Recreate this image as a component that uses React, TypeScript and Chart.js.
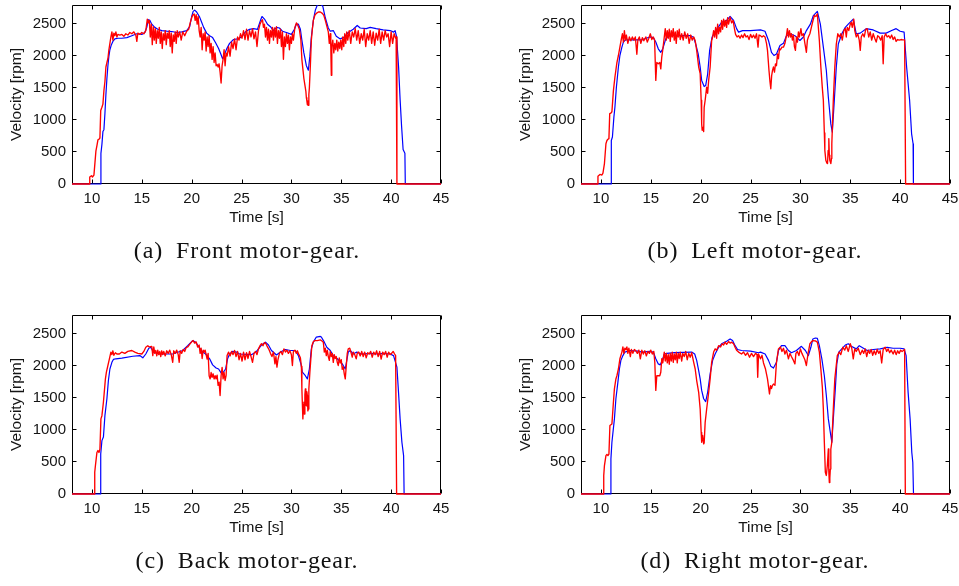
import React, { useEffect, useRef } from 'react';
import { Chart, registerables } from 'chart.js';

Chart.register(...registerables);

// ---------- axes ----------
const X_TICKS = [10, 15, 20, 25, 30, 35, 40, 45];
const Y_TICKS = [0, 500, 1000, 1500, 2000, 2500];
const X_RANGE = [8, 45];
const Y_RANGE = [0, 2800];
const X_TITLE = 'Time [s]';
const Y_TITLE = 'Velocity [rpm]';

// ---------- (a) Front motor-gear ----------
const FRONT_REF: [number, number][] = [
  [8,0],[10.85,0],[10.9,480],[11.0,620],[11.1,820],[11.2,850],[11.3,1100],[11.4,1400],[11.5,1650],[11.6,1850],[11.7,2000],[11.8,2100],[11.95,2180],[12.1,2230],[12.3,2270],[12.6,2280],[13.0,2280],[13.5,2290],[14.0,2320],[14.5,2350],[15.0,2340],[15.3,2370],[15.5,2450],[15.65,2570],[15.8,2560],[16.0,2500],[16.3,2450],[16.6,2420],[17.0,2400],[17.5,2390],[18.0,2385],[18.5,2370],[19.0,2380],[19.5,2400],[19.8,2460],[20.0,2620],[20.15,2700],[20.3,2720],[20.5,2690],[20.8,2610],[21.0,2530],[21.2,2450],[21.5,2360],[21.8,2320],[22.1,2290],[22.4,2210],[22.7,2120],[22.9,2040],[23.1,1960],[23.3,2030],[23.5,2110],[23.8,2200],[24.2,2260],[24.6,2270],[25.0,2300],[25.4,2380],[25.8,2420],[26.2,2430],[26.6,2420],[26.9,2560],[27.05,2620],[27.3,2580],[27.6,2500],[27.9,2460],[28.2,2400],[28.5,2450],[28.8,2440],[29.1,2390],[29.5,2370],[30.0,2340],[30.3,2420],[30.5,2500],[30.7,2500],[30.9,2420],[31.05,2250],[31.25,2050],[31.5,1850],[31.7,1780],[31.85,2000],[32.0,2300],[32.2,2560],[32.4,2720],[32.6,2800],[32.9,2820],[33.15,2780],[33.4,2600],[33.7,2440],[33.9,2390],[34.2,2400],[34.5,2310],[34.9,2270],[35.3,2300],[35.7,2370],[36.2,2420],[36.6,2480],[36.9,2440],[37.5,2430],[37.9,2450],[38.5,2430],[39.2,2410],[39.9,2400],[40.25,2375],[40.4,2400],[40.55,2300],[40.75,1820],[40.9,1320],[41.05,900],[41.2,540],[41.38,480],[41.42,0],[45,0]
];
const FRONT_MEAS: [number, number][] = [
  [8,0],[9.75,0],[9.78,110],[9.95,130],[10.05,110],[10.2,140],[10.3,330],[10.4,520],[10.5,600],[10.6,690],[10.7,700],[10.8,720],[10.88,1150],[11.0,1200],[11.1,1250],[11.2,1460],[11.3,1600],[11.4,1830],[11.5,1900],[11.6,1960],[11.7,2100],[11.8,2200],[11.9,2300],[12.0,2380],[12.1,2250],[12.2,2360],[12.3,2320],[12.4,2380],[12.5,2300],[12.6,2340],[12.8,2330],[13.0,2340],[13.2,2310],[13.4,2350],[13.6,2330],[13.8,2370],[14.0,2350],[14.2,2380],[14.4,2330],[14.5,2230],[14.6,2360],[14.8,2340],[15.0,2370],[15.2,2350],[15.4,2400],[15.55,2580],[15.65,2520],[15.75,2560],[15.85,2300],[15.95,2500],[16.05,2180],[16.15,2460],[16.25,2250],[16.35,2430],[16.45,2200],[16.55,2400],[16.65,2280],[16.75,2450],[16.85,2200],[16.95,2380],[17.05,2120],[17.15,2350],[17.25,2250],[17.35,2400],[17.45,2180],[17.55,2360],[17.65,2280],[17.75,2400],[17.85,2150],[17.95,2360],[18.05,2050],[18.15,2330],[18.25,2230],[18.35,2380],[18.45,2200],[18.55,2400],[18.65,2300],[18.8,2380],[18.95,2250],[19.1,2380],[19.3,2320],[19.5,2390],[19.7,2420],[19.85,2520],[20.0,2600],[20.1,2640],[20.25,2660],[20.35,2560],[20.45,2650],[20.55,2500],[20.65,2620],[20.75,2400],[20.85,2300],[20.95,2450],[21.05,2100],[21.15,2350],[21.25,2250],[21.35,2380],[21.45,2080],[21.55,2300],[21.65,2150],[21.75,2320],[21.85,2050],[21.95,2200],[22.05,1950],[22.15,2150],[22.25,1900],[22.35,2050],[22.45,1850],[22.55,1870],[22.65,1830],[22.75,1880],[22.85,1750],[22.95,1580],[23.05,1850],[23.15,1950],[23.25,2100],[23.35,1850],[23.45,2050],[23.55,2000],[23.7,2150],[23.85,2000],[24.0,2220],[24.15,2120],[24.3,2270],[24.45,2100],[24.6,2300],[24.75,2250],[24.9,2350],[25.05,2280],[25.2,2400],[25.35,2260],[25.5,2420],[25.65,2250],[25.8,2400],[25.95,2300],[26.1,2430],[26.25,2270],[26.4,2380],[26.55,2150],[26.7,2400],[26.85,2500],[27.0,2550],[27.1,2570],[27.2,2450],[27.3,2500],[27.4,2300],[27.5,2450],[27.6,2250],[27.7,2420],[27.8,2200],[27.9,2400],[28.0,2300],[28.1,2450],[28.2,2250],[28.3,2440],[28.4,2300],[28.5,2460],[28.6,2200],[28.7,2400],[28.8,2280],[28.9,2420],[29.0,2150],[29.1,2380],[29.2,1950],[29.3,2300],[29.4,2150],[29.5,2350],[29.6,2200],[29.7,2330],[29.8,2100],[29.9,2300],[30.0,2200],[30.1,2350],[30.2,2250],[30.35,2450],[30.5,2520],[30.65,2480],[30.8,2420],[30.95,2250],[31.05,1950],[31.15,1800],[31.25,1650],[31.35,1550],[31.45,1450],[31.5,1350],[31.55,1300],[31.6,1240],[31.65,1300],[31.7,1230],[31.75,1400],[31.8,1500],[31.9,1850],[32.0,2250],[32.1,2420],[32.2,2560],[32.35,2640],[32.5,2670],[32.7,2690],[32.9,2690],[33.1,2670],[33.25,2640],[33.4,2560],[33.55,2470],[33.7,2380],[33.8,2200],[33.9,2350],[33.95,2150],[34.0,1700],[34.05,2150],[34.15,2250],[34.25,2050],[34.35,2200],[34.45,2100],[34.55,2250],[34.65,2080],[34.75,2220],[34.85,2120],[34.95,2250],[35.05,2100],[35.15,2300],[35.25,2150],[35.35,2350],[35.45,2200],[35.55,2380],[35.65,2250],[35.8,2400],[35.95,2200],[36.1,2380],[36.25,2300],[36.4,2430],[36.55,2250],[36.7,2400],[36.85,2200],[37.0,2350],[37.15,2250],[37.3,2420],[37.45,2150],[37.6,2350],[37.75,2250],[37.9,2400],[38.05,2200],[38.2,2380],[38.35,2170],[38.5,2360],[38.65,2250],[38.8,2420],[38.95,2200],[39.1,2380],[39.25,2250],[39.4,2400],[39.55,2300],[39.7,2350],[39.85,2150],[40.0,2380],[40.15,2200],[40.3,2350],[40.45,2280],[40.5,2300],[40.58,0],[45,0]
];

// ---------- (b) Left motor-gear ----------
const LEFT_REF: [number, number][] = [
  [8,0],[11.02,0],[11.04,680],[11.15,735],[11.3,1050],[11.4,1200],[11.55,1515],[11.75,1830],[11.9,2010],[12.1,2140],[12.25,2220],[12.45,2255],[13.0,2255],[14.1,2255],[14.9,2300],[15.25,2290],[15.5,2220],[15.75,2115],[16.0,2060],[16.2,2115],[16.5,2270],[16.8,2320],[18.0,2320],[19.0,2320],[19.3,2290],[19.5,2190],[19.75,2035],[19.95,1830],[20.1,1620],[20.35,1525],[20.5,1540],[20.7,1720],[20.9,2090],[21.15,2300],[21.4,2375],[21.75,2450],[22.1,2530],[22.6,2560],[22.95,2620],[23.3,2560],[23.6,2430],[23.8,2375],[24.2,2400],[25.0,2400],[26.0,2410],[26.45,2390],[26.8,2245],[27.1,2060],[27.35,2010],[27.6,2035],[27.95,2165],[28.3,2200],[28.6,2320],[28.95,2350],[29.45,2320],[29.95,2245],[30.3,2300],[30.6,2400],[31.0,2500],[31.3,2635],[31.7,2700],[32.0,2500],[32.3,2140],[32.6,1775],[32.8,1360],[33.05,940],[33.2,810],[33.4,1310],[33.6,1830],[33.8,2190],[34.15,2350],[34.5,2450],[34.8,2500],[35.3,2580],[35.6,2350],[36.0,2360],[36.6,2430],[37.3,2410],[38.0,2360],[38.6,2360],[39.15,2400],[39.6,2430],[40.0,2390],[40.4,2375],[40.65,1830],[40.95,1310],[41.15,785],[41.3,630],[41.33,0],[45,0]
];
const LEFT_MEAS: [number, number][] = [
  [8,0],[9.67,0],[9.7,120],[9.9,150],[10.1,140],[10.2,170],[10.35,320],[10.5,630],[10.6,680],[10.7,700],[10.8,710],[10.88,1100],[11.0,1110],[11.1,1130],[11.25,1460],[11.4,1670],[11.6,1900],[11.75,2010],[11.9,2140],[12.05,2270],[12.15,2350],[12.25,2220],[12.35,2400],[12.45,2250],[12.55,2330],[12.7,2200],[12.85,2300],[13.0,2240],[13.15,2300],[13.3,2250],[13.45,2300],[13.6,2030],[13.7,2250],[13.85,2300],[14.0,2200],[14.15,2290],[14.3,2240],[14.5,2300],[14.65,2220],[14.8,2280],[14.95,2350],[15.1,2260],[15.25,2300],[15.38,2250],[15.5,1620],[15.6,1900],[15.75,1880],[15.9,1900],[16.0,1800],[16.1,1990],[16.2,2100],[16.35,2300],[16.45,2430],[16.55,2250],[16.65,2400],[16.75,2280],[16.85,2420],[16.95,2230],[17.05,2400],[17.15,2300],[17.25,2430],[17.35,2250],[17.45,2380],[17.55,2200],[17.65,2400],[17.75,2300],[17.85,2420],[17.95,2260],[18.1,2350],[18.25,2250],[18.4,2380],[18.55,2280],[18.7,2350],[18.85,2200],[19.0,2330],[19.15,2250],[19.3,2300],[19.45,2245],[19.6,2090],[19.8,1830],[19.95,1725],[20.05,1310],[20.1,940],[20.15,840],[20.25,890],[20.3,820],[20.35,1200],[20.45,1310],[20.6,1515],[20.7,1420],[20.8,1620],[20.95,1830],[21.1,2245],[21.2,2300],[21.3,2400],[21.4,2300],[21.5,2450],[21.6,2280],[21.7,2500],[21.8,2350],[21.9,2450],[22.0,2380],[22.1,2560],[22.2,2420],[22.3,2580],[22.4,2470],[22.5,2560],[22.6,2450],[22.7,2600],[22.8,2500],[22.95,2610],[23.1,2520],[23.25,2560],[23.4,2420],[23.5,2340],[23.65,2300],[23.8,2320],[23.95,2280],[24.1,2330],[24.25,2290],[24.4,2350],[24.55,2300],[24.7,2320],[24.85,2260],[25.0,2340],[25.15,2290],[25.3,2330],[25.45,2280],[25.6,2350],[25.75,2140],[25.85,2330],[26.0,2320],[26.15,2300],[26.3,2320],[26.45,2300],[26.6,2200],[26.7,2090],[26.85,1775],[26.95,1600],[27.03,1490],[27.12,1700],[27.2,1775],[27.3,1830],[27.4,1750],[27.5,1880],[27.6,1850],[27.7,2035],[27.8,1960],[27.9,2115],[28.0,2100],[28.15,2140],[28.3,2140],[28.45,2200],[28.6,2320],[28.7,2430],[28.8,2300],[28.9,2400],[29.0,2300],[29.1,2350],[29.2,2250],[29.3,2330],[29.4,2150],[29.5,2090],[29.6,2300],[29.7,2220],[29.8,2380],[29.9,2300],[30.05,2430],[30.15,2320],[30.3,2350],[30.45,2200],[30.6,2060],[30.7,2250],[30.8,2300],[30.95,2350],[31.1,2450],[31.25,2550],[31.4,2635],[31.55,2620],[31.7,2660],[31.8,2450],[31.9,2245],[32.05,1830],[32.2,1500],[32.3,1310],[32.4,800],[32.45,525],[32.55,370],[32.65,330],[32.72,320],[32.78,525],[32.85,710],[32.9,450],[32.95,370],[33.05,320],[33.12,400],[33.15,630],[33.3,1310],[33.45,1830],[33.6,2190],[33.75,2350],[33.9,2300],[34.05,2350],[34.2,2250],[34.35,2400],[34.5,2430],[34.6,2300],[34.7,2450],[34.85,2400],[35.0,2500],[35.1,2530],[35.2,2450],[35.35,2580],[35.45,2400],[35.6,2300],[35.75,2350],[35.9,2250],[36.0,2090],[36.1,2300],[36.25,2350],[36.4,2300],[36.55,2420],[36.7,2430],[36.85,2300],[37.0,2380],[37.15,2250],[37.3,2350],[37.45,2280],[37.6,2220],[37.75,2320],[37.9,2300],[38.05,2250],[38.2,2320],[38.3,1880],[38.4,2300],[38.55,2350],[38.7,2300],[38.85,2320],[39.0,2280],[39.15,2330],[39.3,2260],[39.45,2300],[39.6,2230],[39.75,2260],[39.9,2250],[40.1,2260],[40.25,2255],[40.45,2255],[40.55,0],[45,0]
];

// ---------- (c) Back motor-gear ----------
const BACK_REF: [number, number][] = [
  [8,0],[10.85,0],[10.88,625],[11.0,835],[11.15,890],[11.3,1225],[11.5,1490],[11.65,1775],[11.8,1955],[12.0,2060],[12.15,2105],[12.4,2115],[13.0,2125],[14.1,2155],[14.8,2165],[15.1,2130],[15.4,2190],[15.7,2280],[15.9,2295],[16.15,2220],[16.8,2190],[18.1,2190],[19.1,2245],[19.6,2320],[20.1,2400],[20.4,2375],[20.8,2280],[21.1,2220],[21.4,2190],[21.8,2115],[22.1,2020],[22.45,1970],[22.7,1955],[22.95,1895],[23.15,1900],[23.4,1955],[23.6,2115],[23.8,2190],[24.1,2230],[24.5,2220],[24.8,2190],[25.5,2185],[26.0,2180],[26.5,2230],[27.0,2330],[27.4,2375],[27.7,2330],[28.0,2245],[28.5,2175],[28.9,2220],[29.4,2260],[29.9,2245],[30.4,2245],[30.7,2165],[30.95,2035],[31.1,1905],[31.4,1850],[31.6,1800],[31.8,1955],[32.0,2270],[32.2,2375],[32.5,2455],[32.9,2465],[33.0,2455],[33.3,2375],[33.55,2295],[33.9,2245],[34.2,2165],[34.6,2115],[35.1,2035],[35.4,1955],[35.7,2220],[35.9,2245],[36.2,2190],[36.56,2220],[37.0,2190],[38.0,2200],[38.6,2190],[39.2,2200],[39.9,2190],[40.24,2165],[40.58,1985],[40.74,1590],[40.9,1175],[41.08,810],[41.25,600],[41.3,0],[45,0]
];
const BACK_MEAS: [number, number][] = [
  [8,0],[10.25,0],[10.28,340],[10.35,445],[10.5,650],[10.6,680],[10.7,650],[10.8,700],[10.9,1175],[11.0,1225],[11.15,1435],[11.35,1800],[11.45,1905],[11.6,2010],[11.75,2115],[11.9,2220],[12.0,2180],[12.1,2240],[12.2,2170],[12.35,2210],[12.5,2190],[12.75,2190],[13.0,2220],[13.3,2200],[13.6,2230],[14.0,2245],[14.3,2220],[14.6,2200],[15.0,2190],[15.2,2230],[15.4,2295],[15.6,2320],[15.75,2300],[16.0,2310],[16.1,2165],[16.2,2300],[16.3,2200],[16.4,2245],[16.5,2160],[16.6,2250],[16.7,2180],[16.8,2230],[16.9,2150],[17.0,2240],[17.1,2180],[17.2,2230],[17.35,2160],[17.5,2240],[17.65,2200],[17.8,2250],[17.95,2180],[18.1,2060],[18.2,2240],[18.35,2200],[18.5,2250],[18.65,2180],[18.75,2060],[18.85,2240],[19.0,2200],[19.15,2260],[19.3,2230],[19.45,2290],[19.6,2300],[19.8,2340],[20.0,2380],[20.15,2400],[20.3,2360],[20.45,2380],[20.6,2300],[20.75,2330],[20.85,2200],[20.95,2280],[21.05,2120],[21.15,2250],[21.25,2220],[21.35,2250],[21.45,2180],[21.55,2110],[21.65,2200],[21.75,1850],[21.85,1800],[21.95,1900],[22.05,1825],[22.15,1880],[22.25,1800],[22.35,1850],[22.45,1800],[22.55,1860],[22.65,1700],[22.75,1750],[22.85,1540],[22.95,1850],[23.05,1980],[23.15,1800],[23.25,1900],[23.35,1775],[23.45,1850],[23.55,2165],[23.7,2220],[23.85,2160],[24.0,2230],[24.15,2180],[24.3,2245],[24.45,2150],[24.6,2230],[24.75,2100],[24.9,2200],[25.05,2080],[25.2,2220],[25.35,2100],[25.5,2210],[25.65,2120],[25.8,2230],[25.95,2150],[26.1,2060],[26.25,2200],[26.4,2230],[26.55,2180],[26.7,2270],[26.85,2320],[27.0,2350],[27.15,2320],[27.3,2370],[27.45,2350],[27.6,2300],[27.75,2260],[27.9,2200],[28.05,2150],[28.2,2220],[28.35,2035],[28.45,2150],[28.55,1985],[28.65,2100],[28.8,2200],[28.95,2230],[29.1,2180],[29.25,2270],[29.4,2220],[29.55,2250],[29.7,2200],[29.85,2240],[30.0,2180],[30.1,2010],[30.2,2230],[30.35,2250],[30.5,2200],[30.6,2240],[30.75,2180],[30.9,2130],[31.0,2000],[31.05,1650],[31.1,1400],[31.15,1175],[31.2,1350],[31.25,1435],[31.3,1250],[31.35,1550],[31.4,1645],[31.45,1400],[31.5,1380],[31.55,1600],[31.6,1540],[31.65,1300],[31.7,1330],[31.75,1645],[31.85,1900],[31.95,2115],[32.05,2320],[32.2,2380],[32.35,2400],[32.6,2400],[32.9,2410],[33.1,2390],[33.2,2375],[33.3,2220],[33.4,2280],[33.5,2165],[33.6,2250],[33.7,2150],[33.8,2090],[33.9,2230],[34.0,2150],[34.1,2200],[34.2,2060],[34.3,2180],[34.4,2120],[34.5,2150],[34.6,2060],[34.7,2010],[34.8,2130],[34.9,2050],[35.0,2100],[35.1,1950],[35.2,1990],[35.3,1880],[35.4,1800],[35.5,2000],[35.6,2200],[35.7,2270],[35.85,2280],[36.0,2200],[36.1,2140],[36.2,2220],[36.35,2180],[36.5,2115],[36.6,2200],[36.75,2220],[36.9,2160],[37.05,2230],[37.2,2150],[37.35,2220],[37.5,2130],[37.65,2210],[37.8,2190],[37.95,2230],[38.1,2140],[38.25,2220],[38.4,2180],[38.55,2240],[38.7,2150],[38.85,2230],[39.0,2110],[39.15,2220],[39.3,2180],[39.45,2230],[39.6,2140],[39.75,2220],[39.9,2180],[40.05,2200],[40.2,2230],[40.35,2190],[40.45,2165],[40.55,0],[45,0]
];

// ---------- (d) Right motor-gear ----------
const RIGHT_REF: [number, number][] = [
  [8,0],[10.98,0],[11.0,550],[11.1,810],[11.35,1175],[11.5,1490],[11.7,1750],[11.85,1955],[12.0,2090],[12.2,2165],[12.4,2220],[12.9,2245],[13.75,2235],[14.1,2220],[14.9,2230],[15.25,2220],[15.5,2115],[15.75,2035],[15.95,2020],[16.15,2090],[16.35,2190],[16.6,2200],[17.4,2210],[19.1,2220],[19.4,2190],[19.6,2090],[19.8,1930],[19.95,1800],[20.1,1620],[20.3,1490],[20.5,1445],[20.7,1590],[20.95,1880],[21.2,2090],[21.45,2190],[21.8,2295],[22.1,2350],[22.6,2390],[22.95,2425],[23.2,2400],[23.45,2320],[23.7,2260],[24.1,2245],[25.0,2235],[25.8,2210],[26.0,2220],[26.46,2190],[26.8,2090],[27.03,2000],[27.3,1970],[27.6,2060],[27.8,2245],[28.1,2320],[28.45,2320],[28.8,2245],[29.1,2210],[29.6,2245],[30.1,2310],[30.5,2245],[30.8,2165],[31.05,2295],[31.25,2425],[31.5,2440],[31.7,2435],[31.9,2320],[32.15,2115],[32.4,1850],[32.6,1540],[32.8,1175],[33.0,965],[33.15,810],[33.3,1175],[33.5,1645],[33.65,2035],[33.85,2220],[34.15,2270],[34.5,2330],[34.8,2350],[35.1,2310],[35.6,2270],[35.9,2320],[36.7,2245],[37.3,2260],[38.0,2270],[38.7,2295],[39.3,2280],[40.0,2280],[40.4,2270],[40.6,2165],[40.8,1590],[41.0,1175],[41.17,650],[41.27,495],[41.34,0],[45,0]
];
const RIGHT_MEAS: [number, number][] = [
  [8,0],[10.25,0],[10.28,290],[10.35,445],[10.5,600],[10.6,620],[10.7,600],[10.8,625],[10.9,1070],[11.1,1095],[11.25,1435],[11.35,1645],[11.5,1800],[11.6,1850],[11.75,1955],[11.9,2115],[12.1,2220],[12.2,2300],[12.3,2200],[12.4,2280],[12.5,2260],[12.6,2300],[12.7,2200],[12.8,2280],[12.95,2150],[13.05,2260],[13.2,2200],[13.35,2260],[13.5,2240],[13.65,2200],[13.8,2250],[13.95,2115],[14.1,2250],[14.25,2190],[14.4,2240],[14.55,2160],[14.7,2230],[14.85,2200],[15.0,2250],[15.15,2190],[15.3,2230],[15.4,2060],[15.5,1620],[15.6,1850],[15.75,1850],[15.9,1850],[16.0,1905],[16.1,2115],[16.2,2050],[16.35,2220],[16.45,2080],[16.55,2200],[16.65,2050],[16.75,2180],[16.85,2030],[16.95,2200],[17.05,2080],[17.15,2220],[17.25,2060],[17.35,2190],[17.45,2100],[17.55,2220],[17.65,2050],[17.75,2200],[17.85,2120],[17.95,2220],[18.1,2080],[18.2,2200],[18.35,2150],[18.5,2230],[18.65,2100],[18.8,2200],[18.95,2140],[19.1,2210],[19.3,2060],[19.45,1955],[19.6,1775],[19.8,1590],[19.95,1330],[20.05,965],[20.1,810],[20.2,915],[20.3,785],[20.35,800],[20.45,1120],[20.6,1330],[20.8,1590],[20.95,1800],[21.1,2060],[21.3,2220],[21.45,2270],[21.6,2250],[21.8,2320],[22.0,2300],[22.15,2350],[22.3,2330],[22.45,2375],[22.6,2340],[22.8,2385],[22.95,2360],[23.1,2375],[23.3,2350],[23.45,2295],[23.6,2250],[23.8,2220],[24.1,2190],[24.3,2220],[24.5,2170],[24.7,2210],[24.9,2140],[25.1,2200],[25.3,2150],[25.5,2200],[25.65,2180],[25.72,1825],[25.8,2190],[26.0,2115],[26.15,2170],[26.3,2050],[26.5,1955],[26.7,1800],[26.9,1565],[27.0,1695],[27.1,1650],[27.2,1700],[27.3,1720],[27.45,1700],[27.6,2060],[27.8,2270],[28.0,2300],[28.15,2230],[28.3,2280],[28.45,2190],[28.6,2250],[28.8,2115],[28.95,2200],[29.1,2150],[29.3,2090],[29.45,2035],[29.55,2200],[29.7,2230],[29.85,2165],[30.0,2270],[30.15,2200],[30.3,2150],[30.45,2100],[30.6,2010],[30.75,2180],[30.95,2350],[31.1,2380],[31.25,2400],[31.5,2395],[31.7,2375],[31.9,2220],[32.05,1955],[32.2,1670],[32.3,1330],[32.4,810],[32.5,340],[32.6,290],[32.7,445],[32.8,705],[32.85,350],[32.9,180],[32.95,250],[33.0,390],[33.05,700],[33.15,810],[33.3,1330],[33.45,1800],[33.7,2165],[33.9,2220],[34.05,2180],[34.25,2295],[34.45,2250],[34.6,2320],[34.8,2230],[35.0,2350],[35.15,2280],[35.3,2115],[35.45,2270],[35.6,2230],[35.8,2280],[36.0,2180],[36.2,2250],[36.35,2200],[36.5,2270],[36.65,2150],[36.8,2250],[36.95,2200],[37.1,2260],[37.25,2170],[37.4,2240],[37.55,2180],[37.7,2260],[37.85,2200],[38.0,2240],[38.15,2050],[38.3,2260],[38.5,2295],[38.65,2230],[38.8,2270],[38.95,2210],[39.1,2250],[39.3,2190],[39.45,2250],[39.6,2180],[39.75,2240],[39.9,2200],[40.05,2250],[40.2,2230],[40.45,2260],[40.52,0],[45,0]
];

const CAPTION_LABELS = ['(a)', '(b)', '(c)', '(d)'];
const CAPTION_TEXTS = ['Front motor-gear.', 'Left motor-gear.', 'Back motor-gear.', 'Right motor-gear.'];

// ---------- styling / layout ----------
const TEXT_COLOR = '#141414';
const SANS = '"Liberation Sans", Arial, Helvetica, sans-serif';
const CANVAS_W = 450;
const CANVAS_H = 240;

const boxPlugin = {
  id: 'matlabBox',
  beforeDatasetsDraw(chart: any) {
    const { ctx, chartArea, scales } = chart;
    const l = Math.round(chartArea.left) + 0.5;
    const r = Math.round(chartArea.right) - 0.5;
    const t = Math.round(chartArea.top) + 0.5;
    const b = Math.round(chartArea.bottom) - 0.5;
    ctx.save();
    ctx.strokeStyle = '#000';
    ctx.lineWidth = 1;
    ctx.beginPath();
    ctx.rect(l, t, r - l, b - t);
    const tl = 4;
    for (const v of X_TICKS) {
      const x = Math.round(scales.x.getPixelForValue(v)) + 0.5;
      ctx.moveTo(x, b); ctx.lineTo(x, b - tl);
      ctx.moveTo(x, t); ctx.lineTo(x, t + tl);
    }
    for (const v of Y_TICKS) {
      const y = Math.round(scales.y.getPixelForValue(v)) - 0.5;
      ctx.moveTo(l, y); ctx.lineTo(l + tl, y);
      ctx.moveTo(r, y); ctx.lineTo(r - tl, y);
    }
    ctx.stroke();
    ctx.restore();
  },
};

function Panel(props: { refData: [number, number][]; measData: [number, number][]; left: number; top: number }) {
  const cv = useRef<HTMLCanvasElement | null>(null);
  useEffect(() => {
    if (!cv.current) return;
    const tickFont = { family: SANS, size: 15 };
    const titleFont = { family: SANS, size: 15.5 };
    const clip = { left: 2, top: 0, right: 2, bottom: 2 };
    const chart = new Chart(cv.current, {
      type: 'line',
      data: {
        datasets: [
          {
            data: props.measData.map(([x, y]) => ({ x, y })),
            borderColor: '#ff0000',
            borderWidth: 1.35,
            pointRadius: 0,
            tension: 0,
            borderJoinStyle: 'round',
            clip,
            order: 1,
          },
          {
            data: props.refData.map(([x, y]) => ({ x, y })),
            borderColor: '#0000ff',
            borderWidth: 1.2,
            pointRadius: 0,
            tension: 0,
            borderJoinStyle: 'round',
            clip,
            order: 2,
          },
        ],
      },
      options: {
        responsive: false,
        animation: false,
        devicePixelRatio: 1,
        events: [],
        layout: { padding: { left: 0, top: 5, right: 9, bottom: 0 } },
        plugins: { legend: { display: false }, tooltip: { enabled: false } },
        scales: {
          x: {
            type: 'linear',
            min: X_RANGE[0],
            max: X_RANGE[1],
            grid: { display: false, drawTicks: false },
            border: { display: false },
            afterBuildTicks: (s: any) => { s.ticks = X_TICKS.map((value) => ({ value })); },
            afterFit: (s: any) => { s.height = CANVAS_H - 184; s.paddingLeft = 0; s.paddingRight = 0; },
            ticks: { padding: 6, color: TEXT_COLOR, font: tickFont, autoSkip: false, maxRotation: 0, callback: (v: any) => String(v) },
            title: { display: true, text: X_TITLE, color: TEXT_COLOR, font: titleFont, padding: { top: 0, bottom: 13 } },
          },
          y: {
            type: 'linear',
            min: Y_RANGE[0],
            max: Y_RANGE[1],
            grid: { display: false, drawTicks: false },
            border: { display: false },
            afterBuildTicks: (s: any) => { s.ticks = Y_TICKS.map((value) => ({ value })); },
            afterFit: (s: any) => { s.width = 72; s.paddingTop = 0; s.paddingBottom = 0; },
            ticks: { padding: 6, color: TEXT_COLOR, font: tickFont, autoSkip: false, callback: (v: any) => String(v) },
            title: { display: true, text: Y_TITLE, color: TEXT_COLOR, font: titleFont, padding: { top: 7, bottom: 0 } },
          },
        },
      } as any,
      plugins: [boxPlugin],
    });
    return () => chart.destroy();
  }, []);
  return (
    <canvas
      ref={cv}
      width={CANVAS_W}
      height={CANVAS_H}
      style={{ position: 'absolute', left: props.left, top: props.top, width: CANVAS_W, height: CANVAS_H }}
    />
  );
}

const SERIES = [
  [FRONT_REF, FRONT_MEAS],
  [LEFT_REF, LEFT_MEAS],
  [BACK_REF, BACK_MEAS],
  [RIGHT_REF, RIGHT_MEAS],
];
const PANEL_POS = [
  { left: 0, top: 0, capX: 247, capY: 253 },
  { left: 509, top: 0, capX: 755, capY: 253 },
  { left: 0, top: 310, capX: 247, capY: 563 },
  { left: 509, top: 310, capX: 755, capY: 563 },
];

export default function App() {
  return (
    <div style={{ position: 'absolute', left: 0, top: 0, width: 959, height: 586, overflow: 'hidden', background: '#fff' }}>
      {PANEL_POS.map((p, i) => (
        <React.Fragment key={i}>
          <Panel refData={SERIES[i][0]} measData={SERIES[i][1]} left={p.left} top={p.top} />
          <div
            style={{
              position: 'absolute',
              left: p.capX,
              top: p.capY - 17,
              transform: 'translateX(-50%)',
              fontFamily: '"Liberation Serif", "Times New Roman", serif',
              fontSize: 24,
              letterSpacing: '0.9px',
              lineHeight: '28px',
              color: '#111',
              whiteSpace: 'pre',
            }}
          >
            {CAPTION_LABELS[i] + '\u2002' + CAPTION_TEXTS[i]}
          </div>
        </React.Fragment>
      ))}
    </div>
  );
}
